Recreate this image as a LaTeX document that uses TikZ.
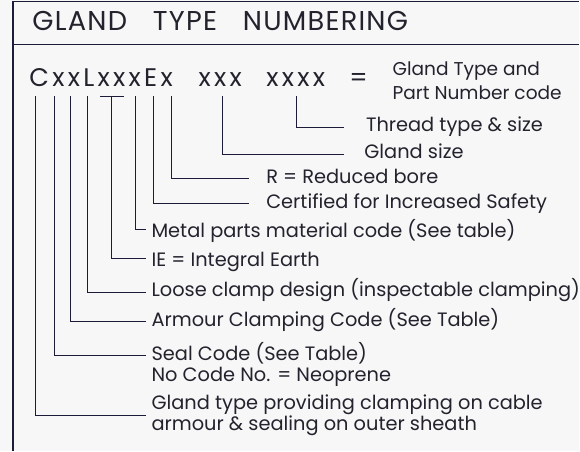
\documentclass[tikz,border=0pt]{standalone}
\usepackage{fontspec}
\setmainfont{Poppins}
\begin{document}
\begin{tikzpicture}[x=1pt,y=-1pt]
	% Define colors
	\definecolor{papercolor}{RGB}{247, 247, 248}
	\definecolor{linecolor}{RGB}{28, 28, 58}
	\definecolor{inkcolor}{RGB}{35, 35, 45}
	\tikzset{
		label/.style={anchor=base west, inner sep=0pt, text=inkcolor, font=\fontsize{19.4}{21}\selectfont, align=left},
		codetext/.style={label, font=\fontsize{25.5}{28}\selectfont\addfontfeatures{LetterSpace=13}},
		lead/.style={draw=linecolor, line width=1pt},
	}
	
	% Paper and frame
	\fill[papercolor] (0,0) rectangle (580,452);
	\draw[linecolor, line width=1.3pt] (13,452) -- (13,1.5) -- (580,1.5);
	\draw[linecolor, line width=1.3pt] (13,44.5) -- (580,44.5);
	
	% Title
	\node[label, font=\fontsize{27.3}{30}\selectfont\addfontfeatures{LetterSpace=4.5}] (title) at (32.3,30.7) {GLAND\hspace{26pt}TYPE\hspace{26pt}NUMBERING};
	
	% Code line
	\node[codetext] (code) at (29.3,86.7) {CxxLxxxEx};
	\node[codetext] (size) at (199,86.7) {xxx};
	\node[codetext] (thread) at (266.7,86.7) {xxxx};
	\node[codetext] (equals) at (350,86.7) {=};
	\node[label, font=\fontsize{18.6}{24}\selectfont] (meaning) at (393.3,100) {Gland Type and\\Part Number code};
	
	% Labels
	\node[label] (lblthread) at (366.7,131.7) {Thread type \& size};
	\node[label] (lblsize) at (365,159) {Gland size};
	\node[label] (lblbore) at (266.7,184) {R = Reduced bore};
	\node[label] (lblsafety) at (266.7,209) {Certified for Increased Safety};
	\node[label] (lblmetal) at (151.7,237.7) {Metal parts material code (See table)};
	\node[label] (lblearth) at (151.7,266.7) {IE = Integral Earth};
	\node[label] (lblloose) at (151.7,297.3) {Loose clamp design (inspectable clamping)};
	\node[label] (lblarmour) at (151.7,327.3) {Armour Clamping Code (See Table)};
	\node[label, font=\fontsize{19.4}{20.7}\selectfont] (lblseal) at (151.7,382) {Seal Code (See Table)\\No Code No. = Neoprene};
	\node[label, font=\fontsize{19.4}{21}\selectfont] (lbltype) at (151.7,431.7) {Gland type providing clamping on cable\\armour \& sealing on outer sheath};
	
	% Leader tops under the code
	\coordinate (ctype) at (36,96.7);
	\coordinate (cseal) at (54.3,96.7);
	\coordinate (carmour) at (70.7,96.7);
	\coordinate (cloose) at (87.3,96.7);
	\coordinate (cearth) at (111.7,96.7);
	\coordinate (cmetal) at (135.7,96.7);
	\coordinate (csafety) at (154,96.7);
	\coordinate (cbore) at (172.3,96.7);
	\coordinate (csize) at (222.7,96.7);
	\coordinate (cthread) at (297.5,96.7);
	
	% Leader ends
	\coordinate (ethread) at (345,127.3);
	\coordinate (esize) at (345,155);
	\coordinate (ebore) at (249.7,179);
	\coordinate (esafety) at (249.7,204);
	\coordinate (emetal) at (146.7,230);
	\coordinate (eearth) at (146.7,259);
	\coordinate (eloose) at (146.7,292.7);
	\coordinate (earmour) at (146.7,322.3);
	\coordinate (eseal) at (146.7,356);
	\coordinate (etype) at (146.7,416);
	
	% Leaders
	\draw[lead] (cthread) |- (ethread);
	\draw[lead] (csize) |- (esize);
	\draw[lead] (cbore) |- (ebore);
	\draw[lead] (csafety) |- (esafety);
	\draw[lead] (cmetal) |- (emetal);
	\draw[lead] (cearth) |- (eearth);
	\draw[lead] (100,96.7) -- (124.5,96.7);
	\draw[lead] (cloose) |- (eloose);
	\draw[lead] (carmour) |- (earmour);
	\draw[lead] (cseal) |- (eseal);
	\draw[lead] (ctype) |- (etype);
\end{tikzpicture}
\end{document}
